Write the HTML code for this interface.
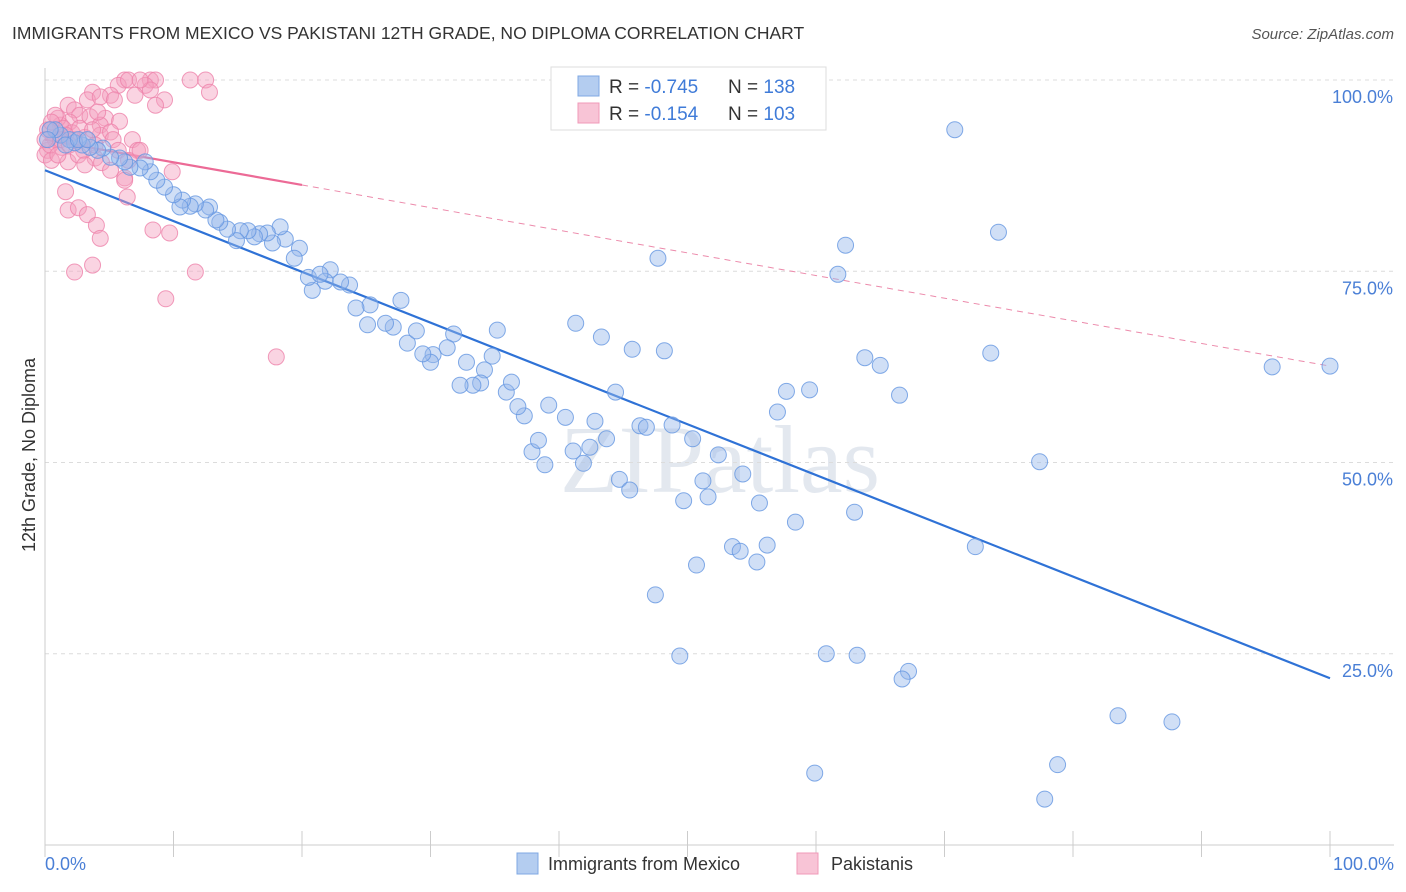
<!DOCTYPE html>
<html><head><meta charset="utf-8"><style>
body{margin:0;background:#fff;font-family:"Liberation Sans",sans-serif;}
svg{display:block}
</style></head><body>
<svg id="chart" width="1406" height="892">
<text x="12" y="39" font-size="17.5" fill="#333">IMMIGRANTS FROM MEXICO VS PAKISTANI 12TH GRADE, NO DIPLOMA CORRELATION CHART</text>
<text x="1394" y="39" font-size="15" fill="#555" font-style="italic" text-anchor="end">Source: ZipAtlas.com</text>
<text x="720" y="492" font-size="96" fill="#e3e8ef" text-anchor="middle" font-family="Liberation Serif,serif">ZIPatlas</text>
<g id="grid"></g><g id="axes"></g><g id="trends"></g><g id="pts"></g>
<text transform="translate(35,455) rotate(-90)" font-size="18" fill="#333" text-anchor="middle">12th Grade, No Diploma</text>
<text x="45" y="870" font-size="18" fill="#4a7fd6">0.0%</text>
<text x="1394" y="870" font-size="18" fill="#4a7fd6" text-anchor="end">100.0%</text>
<g>
<rect x="551" y="67" width="275" height="63" fill="#fff" stroke="#ddd"/>
<rect x="578" y="76" width="21" height="20" fill="#b4cdf0" stroke="#7fa8e3"/>
<text x="609" y="93" font-size="19" fill="#333">R = <tspan fill="#3f7bd8">-0.745</tspan><tspan x="728">N = </tspan><tspan fill="#3f7bd8">138</tspan></text>
<rect x="578" y="103" width="21" height="20" fill="#f8c4d6" stroke="#f09ab8"/>
<text x="609" y="120" font-size="19" fill="#333">R = <tspan fill="#3f7bd8">-0.154</tspan><tspan x="728">N = </tspan><tspan fill="#3f7bd8">103</tspan></text>
</g>
<g><rect x="517" y="853" width="21" height="21" fill="#b4cdf0" stroke="#7fa8e3"/><text x="548" y="870" font-size="18" fill="#333">Immigrants from Mexico</text></g>
<g><rect x="797" y="853" width="21" height="21" fill="#f8c4d6" stroke="#f09ab8"/><text x="831" y="870" font-size="18" fill="#333">Pakistanis</text></g>
</svg>
<script>
const yTicks=[25,50,75,100];
const xTicks=[0,10,20,30,40,50,60,70,80,90,100];
const blueX=[70.8,54.6,62.3,74.2,47.7,61.7,41.3,43.3,45.7,48.2,63.8,65.0,73.6,66.5,57.7,59.5,57.0,95.5,100,77.4,72.4,63.0,58.4,56.2,53.5,54.1,55.4,50.7,47.5,49.4,60.8,63.2,67.2,66.7,83.5,87.7,78.8,59.9,77.8,54.3,55.6,51.6,49.7,52.4,51.2,48.8,50.4,46.3,46.8,44.7,45.5,44.4,42.8,42.4,43.7,41.1,41.9,40.5,39.2,37.9,38.9,38.4,37.3,36.8,35.9,36.3,35.2,34.8,34.2,33.9,33.3,32.3,32.8,31.8,31.3,30.2,30.0,29.4,28.2,28.9,27.7,27.1,26.5,25.1,25.3,24.2,23.7,23.0,22.2,21.8,20.8,20.5,21.4,19.8,19.4,18.7,18.3,17.7,17.3,16.7,16.3,15.8,15.2,14.9,14.2,13.6,13.3,12.8,12.5,11.7,11.3,10.7,10.5,10.0,9.3,8.7,8.2,7.8,7.4,6.6,6.2,5.8,5.1,4.5,4.1,3.5,2.9,2.3,1.9,1.2,0.8,0.4,0.2,1.6,2.6,3.3];
const blueY=[93.5,100,78.4,80.1,76.7,74.6,68.2,66.4,64.8,64.6,63.7,62.7,64.3,58.8,59.3,59.5,56.6,62.5,62.6,50.1,39.0,43.5,42.2,39.2,39.0,38.4,37.0,36.6,32.7,24.7,25.0,24.8,22.7,21.7,16.9,16.1,10.5,9.4,6.0,48.5,44.7,45.5,45.0,51.0,47.6,54.9,53.1,54.8,54.6,47.8,46.4,59.2,55.4,52.0,53.1,51.5,49.9,55.9,57.5,51.4,49.7,52.9,56.1,57.3,59.2,60.5,67.3,63.9,62.1,60.4,60.1,60.1,63.1,66.8,65.0,64.1,63.1,64.2,65.6,67.2,71.2,67.7,68.2,68.0,70.6,70.2,73.2,73.6,75.2,73.7,72.5,74.2,74.6,78.0,76.7,79.2,80.8,78.7,80.0,79.9,79.5,80.3,80.3,79.0,80.5,81.4,81.7,83.4,83.0,83.8,83.5,84.3,83.4,85.0,86.0,86.9,88.0,89.3,88.5,88.6,89.3,89.8,89.9,91.1,90.8,91.2,91.5,91.8,92.2,92.8,93.5,93.5,92.2,91.5,92.2,92.2];
const pinkX=[6.2,8.2,8.6,11.3,12.5,5.7,6.5,7.8,12.8,3.7,5.1,9.3,8.6,1.8,2.3,3.3,4.3,2.7,3.5,4.7,5.8,4.3,1.9,1.2,0.4,0.8,0.2,0,0.5,1.3,2.3,3.1,4.3,5.1,6.8,7.2,1.8,3.9,4.4,6.2,9.9,1.6,6.4,1.8,2.6,3.3,4.0,4.3,8.4,9.7,2.3,3.7,11.7,9.4,18.0,1.0,1.4,2.1,2.7,3.7,0.8,0.2,0.4,1.0,1.6,3.0,3.9,5.3,5.7,6.5,7.4,0,0.5,1.2,1.9,2.6,3.1,5.1,6.2,4.1,5.4,7.0,8.2,7.4];
const pinkY=[100,100,100,100,100,99.3,100,99.3,98.4,98.4,98.0,97.4,96.7,96.7,96.1,97.4,97.8,95.4,95.2,95.0,94.6,94.1,94.5,94.1,93.5,92.2,90.8,90.2,89.5,91.2,92.2,92.5,92.8,93.2,92.2,90.8,89.3,89.8,89.2,87.2,88.0,85.4,84.7,83.0,83.3,82.4,81.0,79.3,80.4,80.0,74.9,75.8,74.9,71.4,63.8,95.0,93.7,93.1,93.7,93.5,95.4,93.5,91.5,90.2,92.8,90.8,91.5,92.2,90.8,89.5,90.8,92.2,94.5,92.2,91.5,90.2,88.9,88.2,86.9,95.8,97.4,98.0,98.7,100];
const blueTrend=[88.2,21.8];
const pinkTrend=[92.2,62.6];
const pinkSolidEnd=20;
const NS='http://www.w3.org/2000/svg';
const X=v=>45+v*12.85, Y=v=>845-v*7.65;
function mk(tag,attrs,parent){const e=document.createElementNS(NS,tag);for(const k in attrs)e.setAttribute(k,attrs[k]);parent.appendChild(e);return e;}
const grid=document.getElementById('grid'),axes=document.getElementById('axes'),tr=document.getElementById('trends'),pts=document.getElementById('pts');
yTicks.forEach(t=>{const l=mk('line',{x1:45,x2:1394,y1:Y(t),y2:Y(t),stroke:'#dcdcdc','stroke-dasharray':'4,4'},grid);


const tx=mk('text',{x:1393,y:Y(t)+23,'font-size':18,fill:'#4a7fd6','text-anchor':'end'},grid);tx.textContent=t.toFixed(1)+'%';

});
const ax=mk('line',{x1:45,x2:1394,y1:845,y2:845,stroke:'#ccc'},axes);


const ay=mk('line',{x1:45,x2:45,y1:68,y2:845,stroke:'#ccc'},axes);


xTicks.forEach(t=>{const l=mk('line',{x1:X(t),x2:X(t),y1:831,y2:857,stroke:'#ccc'},axes);

});
for(let i=0;i<pinkX.length;i++){const c=mk('circle',{cx:X(pinkX[i]),cy:Y(pinkY[i]),r:8,fill:'rgba(245,160,190,0.45)',stroke:'rgba(238,130,170,0.8)','stroke-width':1},pts);

}
for(let i=0;i<blueX.length;i++){const c=mk('circle',{cx:X(blueX[i]),cy:Y(blueY[i]),r:8,fill:'rgba(150,185,235,0.45)',stroke:'rgba(100,150,225,0.8)','stroke-width':1},pts);

}
const pAt=x=>pinkTrend[0]+(pinkTrend[1]-pinkTrend[0])*x/100;
const bl=mk('line',{x1:X(0),y1:Y(blueTrend[0]),x2:X(100),y2:Y(blueTrend[1]),stroke:'#2f72d6','stroke-width':2.2},tr);


const ps=mk('line',{x1:X(0),y1:Y(pAt(0)),x2:X(pinkSolidEnd),y2:Y(pAt(pinkSolidEnd)),stroke:'#ec6a96','stroke-width':2.2},tr);


const pd=mk('line',{x1:X(pinkSolidEnd),y1:Y(pAt(pinkSolidEnd)),x2:X(100),y2:Y(pAt(100)),stroke:'#ec8aab','stroke-width':1,'stroke-dasharray':'6,5'},tr);


</script>
</body></html>
